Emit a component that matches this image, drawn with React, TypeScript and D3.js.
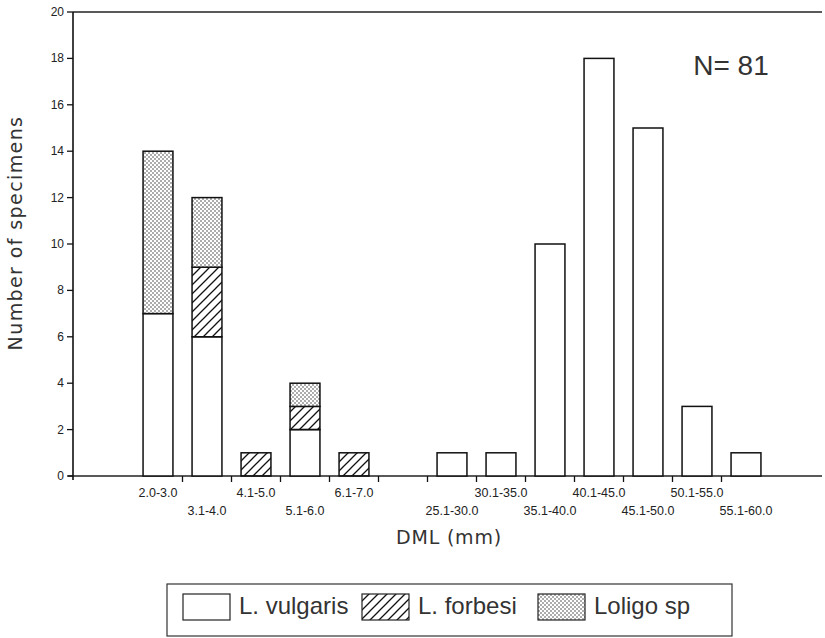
import React from 'react'
import * as d3 from 'd3'

const width = 825
const height = 638

// DML size classes, "" marks the empty slot between 7 mm and 25 mm
const classes = ['2.0-3.0', '3.1-4.0', '4.1-5.0', '5.1-6.0', '6.1-7.0', '', '25.1-30.0', '30.1-35.0', '35.1-40.0', '40.1-45.0', '45.1-50.0', '50.1-55.0', '55.1-60.0']
const vulgaris = [7, 6, 0, 2, 0, 0, 1, 1, 10, 18, 15, 3, 1]
const forbesi = [0, 3, 1, 1, 1, 0, 0, 0, 0, 0, 0, 0, 0]
const loligo = [7, 3, 0, 1, 0, 0, 0, 0, 0, 0, 0, 0, 0]
const yTicks = [0, 2, 4, 6, 8, 10, 12, 14, 16, 18, 20]
const species = ['L. vulgaris', 'L. forbesi', 'Loligo sp']
const fills = ['#fff', 'url(#hatch)', 'url(#dots)']

const font = '"Liberation Sans", Arial, sans-serif'
const wideFont = '"DejaVu Sans", Verdana, sans-serif'

export default function App() {
  const x = d3.scaleBand<string>()
    .domain(classes.map((c, i) => c || 'gap' + i))
    .range([133.5, 770.5])
    .paddingInner(0.39)
    .paddingOuter(0.195)

  const y = d3.scaleLinear().domain([0, 20]).range([476, 12])

  const rows = classes.map((c, i) => ({ key: c || 'gap' + i, label: c, i }))
  const stack = d3.stack<any>().keys(['v', 'f', 'l'])(
    rows.map(r => ({ key: r.key, v: vulgaris[r.i], f: forbesi[r.i], l: loligo[r.i] }))
  )
  const labelled = rows.filter(r => r.label)

  const step = x.step()
  const boundaries = d3.range(1, classes.length).map(k => 133.5 + k * step)

  const legendX = [183, 362, 538]

  return (
    <svg width={width} height={height} style={{ position: 'absolute', left: 0, top: 0, background: '#fff' }}>
      <defs>
        <pattern id="hatch" patternUnits="userSpaceOnUse" width="9" height="9">
          <path d="M0,9 L9,0 M-2,2 L2,-2 M7,11 L11,7" stroke="#111" strokeWidth="1.3" />
        </pattern>
        <pattern id="dots" patternUnits="userSpaceOnUse" width="4" height="4">
          <rect width="4" height="4" fill="#fff" />
          <circle cx="1" cy="1" r="0.75" fill="#333" />
          <circle cx="3" cy="3" r="0.75" fill="#333" />
        </pattern>
      </defs>

      {/* frame lines */}
      <line x1={73} x2={822} y1={y(20)} y2={y(20)} stroke="#222" strokeWidth={1.3} />
      <line x1={68} x2={822} y1={y(0)} y2={y(0)} stroke="#222" strokeWidth={1.3} />
      <line x1={73} x2={73} y1={y(20)} y2={y(0) + 4} stroke="#111" strokeWidth={1.6} />

      {yTicks.map(t => (
        <g key={t}>
          <line x1={67} x2={73} y1={y(t)} y2={y(t)} stroke="#111" strokeWidth={1.3} />
          <text x={64} y={y(t) + 4} textAnchor="end" fontFamily={font} fontSize={12} fill="#222">{t}</text>
        </g>
      ))}

      {boundaries.map((b, i) => (
        <line key={i} x1={b} x2={b} y1={y(0)} y2={y(0) + 6} stroke="#111" strokeWidth={1.3} />
      ))}

      {stack.map((layer, li) => (
        <g key={li}>
          {layer.map((d, i) => d[1] > d[0] ? (
            <rect key={i}
              x={x(rows[i].key)}
              width={x.bandwidth()}
              y={y(d[1])}
              height={y(d[0]) - y(d[1])}
              fill={fills[li]}
              stroke="#111"
              strokeWidth={1.5} />
          ) : null)}
        </g>
      ))}

      {labelled.map((r, k) => (
        <text key={r.key}
          x={(x(r.key) as number) + x.bandwidth() / 2}
          y={k % 2 === 0 ? 497 : 515}
          textAnchor="middle" fontFamily={font} fontSize={12.5} fill="#222">{r.label}</text>
      ))}

      <text x={731} y={75} textAnchor="middle" fontFamily={font} fontSize={28} fill="#333">N= 81</text>

      <text x={449} y={544} textAnchor="middle" fontFamily={wideFont} fontSize={19} letterSpacing={0.8} fill="#333">DML (mm)</text>
      <text transform="translate(22,233) rotate(-90)" textAnchor="middle" fontFamily={wideFont} fontSize={19} letterSpacing={1.4} fill="#333">Number of specimens</text>

      {/* legend */}
      <rect x={167} y={584} width={565} height={52} fill="none" stroke="#333" strokeWidth={1.2} />
      {species.map((s, i) => (
        <g key={s}>
          <rect x={legendX[i]} y={594} width={47} height={26} fill={fills[i]} stroke="#222" strokeWidth={1.2} />
          <text x={legendX[i] + 56} y={614} fontFamily={font} fontSize={24} fill="#333">{s}</text>
        </g>
      ))}
    </svg>
  )
}
